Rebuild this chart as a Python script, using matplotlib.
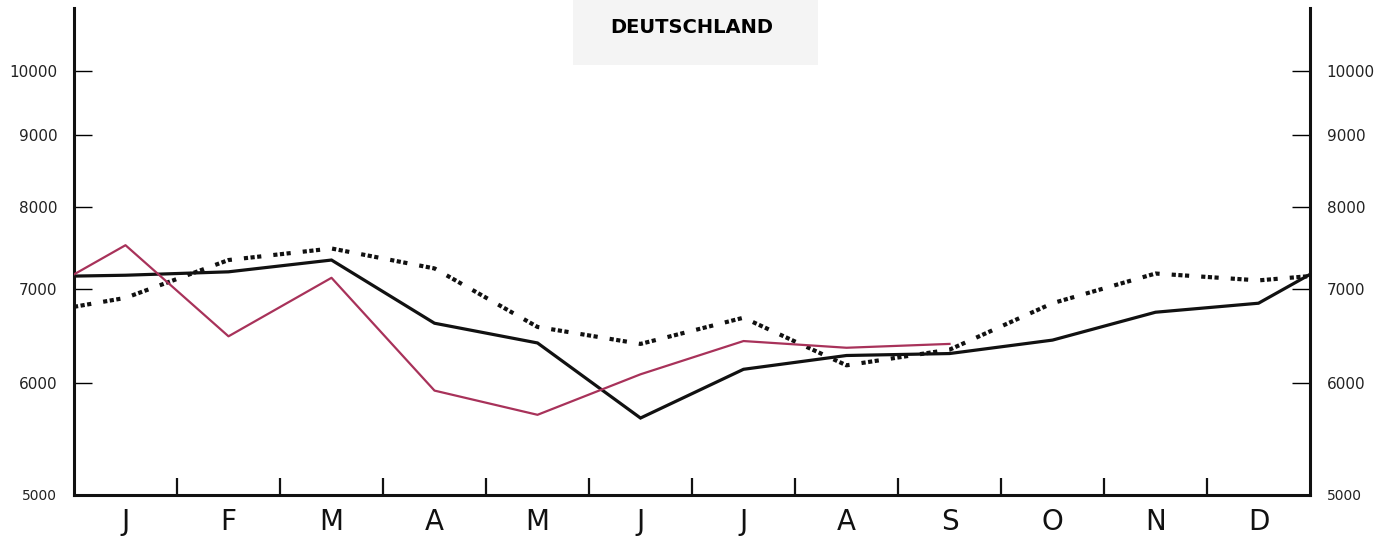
import numpy as np
import matplotlib.pyplot as plt
from matplotlib.ticker import FixedLocator, NullLocator, NullFormatter, FixedFormatter
from matplotlib.patches import Rectangle

# Daten (Monatswerte, logarithmische Skala)
months = ['J', 'F', 'M', 'A', 'M', 'J', 'J', 'A', 'S', 'O', 'N', 'D']
y_ticks = [5000, 6000, 7000, 8000, 9000, 10000]

# schwarze Linie: Wert am Jahresanfang, Monatswerte, Wert am Jahresende
black_start = 7150
black_vals = [7160, 7200, 7340, 6620, 6410, 5670, 6140, 6280, 6300, 6440, 6740, 6840]
black_end = 7170

# rote Linie (nur bis September)
red_start = 7170
red_vals = [7520, 6480, 7130, 5930, 5700, 6090, 6430, 6360, 6400]

# gepunktete Linie
dot_start = 6800
dot_vals = [6900, 7340, 7480, 7240, 6580, 6400, 6680, 6180, 6340, 6840, 7180, 7100]
dot_end = 7150

centers = np.arange(len(months)) + 0.5

fig = plt.figure(figsize=(13.94, 5.38), dpi=100)
ax = fig.add_axes([74 / 1394, 43 / 538, 1236 / 1394, 487 / 538])

# Titelkasten
fig.patches.append(Rectangle((573 / 1394, 473 / 538), 245 / 1394, 65 / 538,
                             transform=fig.transFigure, facecolor='#f4f4f4',
                             edgecolor='none', zorder=0))
fig.text(692 / 1394, 510 / 538, 'DEUTSCHLAND', ha='center', va='center',
         fontsize=14, color='#000000', fontweight='semibold')

x_black = np.concatenate([[0], centers, [12]])
y_black = np.concatenate([[black_start], black_vals, [black_end]])
ax.plot(x_black, y_black, color='#111111', lw=2.3, solid_joinstyle='miter', zorder=3)

x_red = np.concatenate([[0], centers[:len(red_vals)]])
y_red = np.concatenate([[red_start], red_vals])
ax.plot(x_red, y_red, color='#a8325a', lw=1.6, zorder=4)

x_dot = np.concatenate([[0], centers, [12]])
y_dot = np.concatenate([[dot_start], dot_vals, [dot_end]])
ax.plot(x_dot, y_dot, color='#111111', lw=3.0, dashes=(1.0, 0.6, 1.0, 0.6, 1.0, 2.9),
        dash_capstyle='butt', zorder=2)

ax.set_yscale('log')
ax.set_xlim(0, 12)
ax.set_ylim(5000, 11080)

ax.spines['top'].set_visible(False)
for s in ['left', 'right', 'bottom']:
    ax.spines[s].set_linewidth(2.2)
    ax.spines[s].set_color('#111111')

# y-Achse links und rechts
ax.yaxis.set_major_locator(FixedLocator(y_ticks))
ax.yaxis.set_minor_locator(NullLocator())
ax.yaxis.set_minor_formatter(NullFormatter())
ax.yaxis.set_major_formatter(FixedFormatter([str(v) for v in y_ticks]))
ax.tick_params(axis='y', which='major', direction='in', length=13, width=1.0,
               left=True, right=True, labelleft=True, labelright=True,
               labelsize=11, labelcolor='#222222', pad=12)
for lab in ax.get_yticklabels():
    if lab.get_text() == '5000':
        lab.set_fontsize(10)

# x-Achse: Striche an Monatsgrenzen, Buchstaben in der Mitte
ax.xaxis.set_major_locator(FixedLocator(np.arange(1, 12)))
ax.xaxis.set_major_formatter(NullFormatter())
ax.xaxis.set_minor_locator(FixedLocator(centers))
ax.xaxis.set_minor_formatter(FixedFormatter(months))
ax.tick_params(axis='x', which='major', direction='in', length=12, width=1.6, color='#111111')
ax.tick_params(axis='x', which='minor', length=0, labelsize=20, pad=9, labelcolor='#111111')

fig.savefig('out.png', dpi=100)
